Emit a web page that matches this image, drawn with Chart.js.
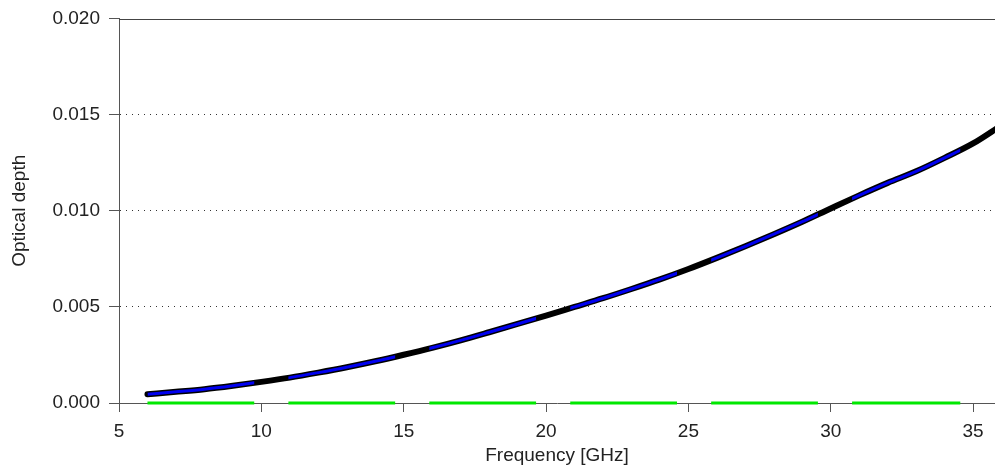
<!DOCTYPE html>
<html>
<head>
<meta charset="utf-8">
<script src="https://cdn.jsdelivr.net/npm/chart.js@4/dist/chart.umd.min.js"></script>
<style>
  html, body { margin: 0; padding: 0; background: #fff; }
  #wrap { width: 995px; height: 465px; }
</style>
</head>
<body>
<div id="wrap"><canvas id="chart"></canvas></div>
<script>
// frequency axis (GHz) and optical depth
const freqGHz = [6, 7, 8, 9, 10, 11, 12, 13, 14, 15, 16, 17, 18, 19, 20, 21,
                 22, 23, 24, 25, 26, 27, 28, 29, 30, 31, 32, 33, 34, 35, 36];
const opticalDepth = [0.00045, 0.00058, 0.00072, 0.00090, 0.00110, 0.00132, 0.00158, 0.00186,
                      0.00217, 0.00251, 0.00287, 0.00326, 0.00368, 0.00411, 0.00455, 0.00500,
                      0.00545, 0.00593, 0.00643, 0.00697, 0.00755, 0.00815, 0.00878, 0.00943,
                      0.01012, 0.01080, 0.01145, 0.01205, 0.01275, 0.01350, 0.01445];
// highlighted bands (blue on the curve, green on the axis)
const bandStart = [6, 10.95, 15.9, 20.85, 25.8, 30.75];
const bandEnd   = [9.75, 14.7, 19.65, 24.6, 29.55, 34.55];
const yTickValues = [0, 0.005, 0.010, 0.015, 0.020];

const curve = freqGHz.map((f, i) => ({ x: f, y: opticalDepth[i] }));
const curveBlue = freqGHz.map((f, i) => ({ x: f, y: opticalDepth[i] }));

let bandLine = [];
for (let i = 0; i < bandStart.length; i++) {
    bandLine.push({ x: bandStart[i], y: 0 });
    bandLine.push({ x: bandEnd[i], y: 0 });
    bandLine.push({ x: bandEnd[i], y: null }); // gap
}

const FONT = "'Liberation Sans', Arial, sans-serif";

// only show the blue line inside the bands (dataset 1)
const bandClip = {
    id: 'bandClip',
    beforeDatasetDraw(chart, args) {
        if (args.index !== 1) return;
        const ctx = chart.ctx, xs = chart.scales.x, a = chart.chartArea;
        ctx.save();
        ctx.beginPath();
        for (let i = 0; i < bandStart.length; i++) {
            const x0 = xs.getPixelForValue(bandStart[i]);
            const x1 = xs.getPixelForValue(bandEnd[i]);
            ctx.rect(x0, a.top - 10, x1 - x0, a.bottom - a.top + 20);
        }
        ctx.clip();
    },
    afterDatasetDraw(chart, args) {
        if (args.index === 1) chart.ctx.restore();
    }
};

// solid frame line along the top
const topLine = {
    id: 'topLine',
    beforeDatasetsDraw(chart) {
        const ctx = chart.ctx, a = chart.chartArea;
        ctx.save();
        ctx.strokeStyle = '#444';
        ctx.lineWidth = 1;
        ctx.beginPath();
        ctx.moveTo(a.left, Math.round(a.top) + 0.5);
        ctx.lineTo(a.right, Math.round(a.top) + 0.5);
        ctx.stroke();
        ctx.restore();
    }
};

// datasets are painted last-to-first, so the black curve goes at the end
new Chart(document.getElementById('chart'), {
    type: 'line',
    data: {
        datasets: [
            {
                data: bandLine,
                borderColor: '#00e800',
                borderWidth: 3,
                pointRadius: 0,
                spanGaps: false,
                clip: false
            },
            {
                data: curveBlue,
                borderColor: '#0000f0',
                borderWidth: 3,
                pointRadius: 0,
                cubicInterpolationMode: 'monotone',
                clip: false
            },
            {
                data: curve,
                borderColor: '#000',
                borderWidth: 6,
                borderCapStyle: 'round',
                pointRadius: 0,
                cubicInterpolationMode: 'monotone',
                clip: false
            }
        ]
    },
    plugins: [bandClip, topLine],
    options: {
        responsive: true,
        maintainAspectRatio: false,
        animation: false,
        events: [],
        layout: { padding: { top: 0, right: 0, bottom: 0, left: 0 } },
        plugins: { legend: { display: false }, tooltip: { enabled: false } },
        scales: {
            x: {
                type: 'linear',
                min: 5,
                max: 35.77,
                afterFit(scale) { scale.height = 62; },
                border: { color: '#555', width: 1 },
                grid: { drawOnChartArea: false, drawTicks: true, tickLength: 9, color: '#555' },
                ticks: {
                    stepSize: 5,
                    includeBounds: false,
                    padding: 8,
                    color: '#222',
                    font: { family: FONT, size: 19 },
                    maxRotation: 0
                },
                title: {
                    display: true,
                    text: 'Frequency [GHz]',
                    color: '#222',
                    font: { family: FONT, size: 19, lineHeight: 1 },
                    padding: { top: 3, bottom: 0 }
                }
            },
            y: {
                min: 0,
                max: 0.02,
                afterBuildTicks(scale) {
                    scale.ticks = yTickValues.map(v => ({ value: v }));
                },
                afterFit(scale) { scale.width = 119; },
                border: { color: '#555', width: 1, dash: [1, 5] },
                grid: {
                    drawTicks: true,
                    tickLength: 10,
                    tickColor: '#555',
                    color: ctx => (ctx.tick && ctx.tick.value > 0 && ctx.tick.value < 0.02) ? '#333' : 'rgba(0,0,0,0)',
                    lineWidth: 1
                },
                ticks: {
                    padding: 9,
                    color: '#222',
                    font: { family: FONT, size: 19, lineHeight: 1 },
                    callback: v => v.toFixed(3)
                },
                title: {
                    display: true,
                    text: 'Optical depth',
                    color: '#222',
                    font: { family: FONT, size: 19 },
                    padding: { top: 8, bottom: 0 }
                }
            }
        }
    }
});
</script>
</body>
</html>
